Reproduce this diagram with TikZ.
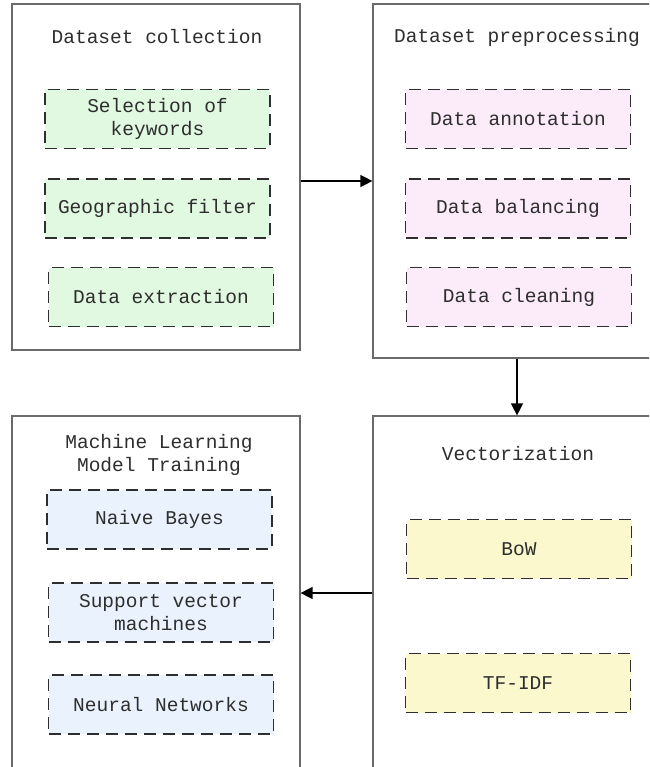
\documentclass[tikz,border=0pt]{standalone}
\usepackage{fontspec}
\setmonofont{Liberation Mono}
\usetikzlibrary{arrows.meta}

\definecolor{txt}{HTML}{2E2E2E}
\definecolor{frame}{HTML}{6A6A6A}
\definecolor{greenfill}{HTML}{E1F8E1}
\definecolor{pinkfill}{HTML}{FCEBF8}
\definecolor{bluefill}{HTML}{EAF3FD}
\definecolor{yellowfill}{HTML}{FAF8CC}

\tikzset{
  stage/.style={draw=frame, line width=1.2pt, rectangle, minimum width=288pt, inner sep=0pt},
  task/.style={draw=txt, dash pattern=on 12pt off 7pt, line width=1.6pt,
    rectangle, minimum width=225pt, minimum height=59pt, inner sep=0pt,
    align=center, text=txt, font=\ttfamily\fontsize{19.5}{22.5}\selectfont},
  heading/.style={text=txt, align=center, inner sep=0pt,
    font=\ttfamily\fontsize{19.5}{22.5}\selectfont},
  flow/.style={-{Triangle[length=12pt,width=12pt]}, line width=1.3pt, black},
}

\begin{document}
\begin{tikzpicture}[x=1pt,y=-1pt]
  \useasboundingbox (0,0) rectangle (649,767);
  \clip (0,0) rectangle (649,767);
  \fill[white] (0,0) rectangle (649,767);

  % stage frames
  \node[stage, minimum height=346pt] (coll) at (156,177) {};
  \node[stage, minimum height=354pt] (prep) at (517,181) {};
  \node[stage, minimum height=364pt] (vect) at (517,598) {};
  \node[stage, minimum height=364pt] (ml)   at (156,598) {};

  % stage headings
  \node[heading] (collT) at (157,37) {Dataset collection};
  \node[heading] (prepT) at (517,37) {Dataset preprocessing};
  \node[heading] (vectT) at (518,454) {Vectorization};
  \node[heading] (mlT)   at (159,455) {Machine Learning\\Model Training};

  % dataset collection steps
  \node[task, fill=greenfill] (kw)  at (157.5,119) {Selection of\\keywords};
  \node[task, fill=greenfill] (geo) at (157.5,208.5) {Geographic filter};
  \node[task, fill=greenfill] (ext) at (161,297) {Data extraction};

  % preprocessing steps
  \node[task, fill=pinkfill] (ann) at (518,119) {Data annotation};
  \node[task, fill=pinkfill] (bal) at (518,208.5) {Data balancing};
  \node[task, fill=pinkfill] (cln) at (519,297) {Data cleaning};

  % vectorization methods
  \node[task, fill=yellowfill] (bow) at (519,549) {BoW};
  \node[task, fill=yellowfill] (tfidf) at (518,683) {TF-IDF};

  % models
  \node[task, fill=bluefill] (nb)  at (159.5,519.5) {Naive Bayes};
  \node[task, fill=bluefill] (svm) at (161,612.5) {Support vector\\machines};
  \node[task, fill=bluefill] (nn)  at (161,704.5) {Neural Networks};

  % pipeline connectors
  \draw[flow] (coll.east |- prep.west) -- (prep.west);
  \draw[flow] (prep.south) -- (vect.north);
  \draw[flow] ([yshift=5pt]vect.west) -- ([yshift=5pt]ml.east);
\end{tikzpicture}
\end{document}
